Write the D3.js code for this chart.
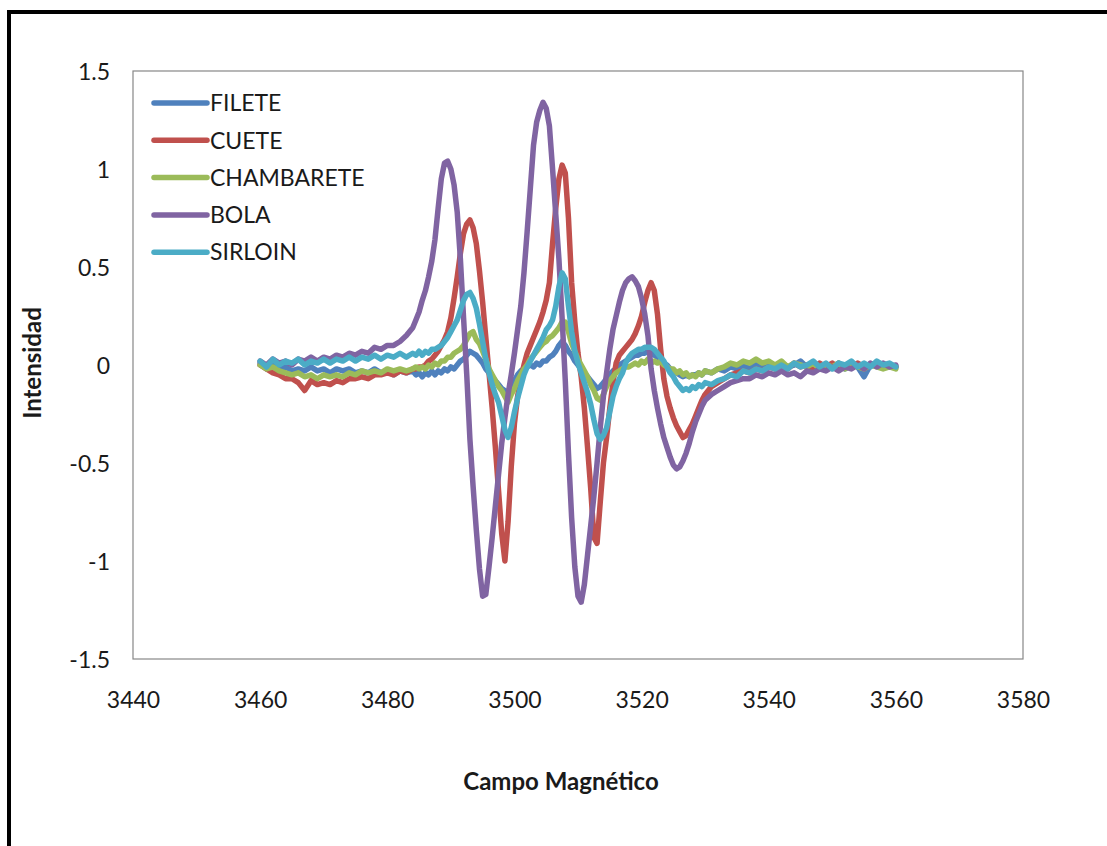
<!DOCTYPE html>
<html>
<head>
<meta charset="utf-8">
<script src="https://cdn.jsdelivr.net/npm/d3@7"></script>
<style>
  html, body { margin: 0; padding: 0; background: #fff; }
  svg { display: block; }
  text { font-family: Lato, "Open Sans", sans-serif; fill: #1a1a1a; }
</style>
</head>
<body>
<svg id="chart" width="1107" height="846"></svg>
<script>
// Field sweep (G): 1 G steps on the wings, 0.5 G steps across the resonance.
const field = d3.range(3460, 3484.001, 1)
  .concat(d3.range(3484.5, 3530.001, 0.5))
  .concat(d3.range(3531, 3560.001, 1));

const seriesNames = ["FILETE", "CUETE", "CHAMBARETE", "BOLA", "SIRLOIN"];
const seriesColors = ["#4F81BD", "#C0504D", "#9BBB59", "#8064A2", "#4BACC6"];

const filete = [
  0.01, -0.02, 0.00, -0.02, -0.01, -0.03, -0.02, -0.03, -0.01, -0.03, -0.02, -0.04, -0.02, -0.03, -0.02, -0.04, -0.03, -0.04, -0.02, -0.04, -0.03, -0.05, -0.03, -0.04, -0.03,
  -0.05, -0.04, -0.06, -0.04, -0.05, -0.03, -0.05, -0.03, -0.04, -0.02,
  -0.03, -0.01, -0.02, 0.00, 0.02, 0.03, 0.05, 0.07, 0.06, 0.05,
  0.03, 0.01, -0.02, -0.04, -0.06, -0.08, -0.10, -0.12, -0.13, -0.14,
  -0.11, -0.08, -0.05, -0.03, -0.02, -0.01, 0.00, -0.01, 0.01, 0.00,
  0.02, 0.02, 0.04, 0.05, 0.07, 0.10, 0.12, 0.10, 0.07, 0.05,
  0.02, 0.00, -0.02, -0.04, -0.06, -0.08, -0.10, -0.12, -0.11, -0.09,
  -0.07, -0.05, -0.03, -0.02, 0.00, 0.01, 0.02, 0.03, 0.04, 0.05,
  0.05, 0.06, 0.06, 0.07, 0.06, 0.05, 0.04, 0.03, 0.01, 0.00,
  -0.02, -0.03, -0.04, -0.05, -0.06, -0.05, -0.06, -0.05, -0.05, -0.04,
  -0.05, -0.03,
  -0.04, -0.02, -0.03, -0.01, -0.02, 0.00, -0.02, 0.01, -0.01, 0.00, -0.02, 0.01, -0.01, 0.00, 0.02, -0.01, 0.01, -0.02, 0.00, -0.01, 0.01, -0.02, 0.00, -0.01, -0.06, 0.00, 0.01, -0.01, 0.00, -0.01
];

const cuete = [
  0.00, -0.02, -0.04, -0.05, -0.07, -0.07, -0.09, -0.13, -0.08, -0.10, -0.09, -0.10, -0.08, -0.09, -0.07, -0.07, -0.06, -0.07, -0.05, -0.05, -0.04, -0.05, -0.03, -0.04, -0.02,
  -0.02, -0.01, -0.01, 0.00, 0.02, 0.03, 0.05, 0.07, 0.10, 0.13,
  0.17, 0.24, 0.34, 0.45, 0.57, 0.67, 0.72, 0.74, 0.70, 0.62,
  0.48, 0.32, 0.14, -0.04, -0.22, -0.42, -0.64, -0.86, -1.00, -0.80,
  -0.52, -0.30, -0.16, -0.07, 0.00, 0.06, 0.10, 0.14, 0.18, 0.22,
  0.27, 0.33, 0.42, 0.62, 0.80, 0.95, 1.02, 0.98, 0.75, 0.42,
  0.22, 0.06, -0.06, -0.22, -0.42, -0.63, -0.88, -0.91, -0.70, -0.50,
  -0.37, -0.22, -0.09, 0.01, 0.05, 0.07, 0.09, 0.11, 0.13, 0.16,
  0.20, 0.25, 0.32, 0.38, 0.42, 0.38, 0.26, 0.08, -0.07, -0.16,
  -0.22, -0.27, -0.31, -0.34, -0.37, -0.36, -0.33, -0.30, -0.26, -0.22,
  -0.18, -0.15,
  -0.11, -0.09, -0.07, -0.05, -0.04, -0.03, -0.04, -0.02, -0.03, -0.01, -0.02, 0.00, -0.02, 0.01, -0.01, 0.00, -0.02, 0.01, -0.01, 0.01, -0.02, 0.00, -0.01, 0.01, -0.01, 0.00, 0.01, -0.01, 0.00, -0.01
];

const chambarete = [
  0.00, -0.02, -0.01, -0.03, -0.04, -0.05, -0.04, -0.06, -0.05, -0.07, -0.05, -0.06, -0.05, -0.06, -0.04, -0.05, -0.03, -0.04, -0.03, -0.04, -0.02, -0.03, -0.02, -0.03, -0.02,
  -0.01, -0.02, -0.01, -0.02, 0.00, -0.01, 0.01, 0.00, 0.02, 0.02,
  0.04, 0.04, 0.06, 0.07, 0.08, 0.10, 0.13, 0.16, 0.17, 0.13,
  0.11, 0.07, 0.03, -0.02, -0.05, -0.08, -0.11, -0.13, -0.16, -0.19,
  -0.15, -0.12, -0.08, -0.05, -0.02, 0.00, 0.03, 0.05, 0.07, 0.09,
  0.11, 0.12, 0.14, 0.15, 0.17, 0.19, 0.22, 0.22, 0.17, 0.11,
  0.07, 0.03, 0.00, -0.03, -0.06, -0.10, -0.13, -0.17, -0.18, -0.15,
  -0.11, -0.08, -0.06, -0.04, -0.03, -0.02, -0.01, -0.01, 0.00, 0.01,
  0.00, 0.02, 0.01, 0.03, 0.01, 0.02, 0.01, 0.02, 0.00, -0.01,
  -0.02, -0.02, -0.04, -0.03, -0.05, -0.04, -0.06, -0.05, -0.06, -0.04,
  -0.05, -0.03,
  -0.04, -0.02, -0.01, 0.01, 0.00, 0.02, 0.01, 0.03, 0.01, 0.02, 0.00, 0.02, -0.01, 0.01, 0.00, -0.01, 0.01, -0.02, 0.00, -0.01, 0.01, -0.02, 0.00, -0.01, -0.02, 0.00, -0.01, -0.02, -0.01, -0.02
];

const bola = [
  0.02, 0.00, 0.03, 0.01, 0.02, 0.00, 0.03, 0.02, 0.04, 0.02, 0.04, 0.03, 0.05, 0.04, 0.06, 0.05, 0.07, 0.06, 0.09, 0.08, 0.10, 0.10, 0.12, 0.15, 0.19,
  0.23, 0.27, 0.33, 0.38, 0.45, 0.53, 0.64, 0.80, 0.95, 1.03,
  1.04, 1.00, 0.92, 0.78, 0.54, 0.24, -0.05, -0.38, -0.62, -0.84,
  -1.04, -1.18, -1.17, -1.03, -0.88, -0.72, -0.56, -0.40, -0.27, -0.15,
  -0.05, 0.06, 0.18, 0.30, 0.47, 0.68, 0.90, 1.12, 1.24, 1.30,
  1.34, 1.31, 1.22, 1.00, 0.77, 0.54, 0.24, -0.08, -0.45, -0.78,
  -1.03, -1.18, -1.21, -1.12, -0.97, -0.82, -0.67, -0.50, -0.32, -0.16,
  -0.04, 0.08, 0.18, 0.25, 0.32, 0.38, 0.42, 0.44, 0.45, 0.43,
  0.40, 0.34, 0.26, 0.15, -0.02, -0.13, -0.22, -0.30, -0.37, -0.42,
  -0.47, -0.51, -0.53, -0.52, -0.49, -0.45, -0.40, -0.34, -0.29, -0.25,
  -0.21, -0.18,
  -0.15, -0.13, -0.11, -0.09, -0.08, -0.07, -0.07, -0.05, -0.06, -0.04, -0.05, -0.03, -0.05, -0.04, -0.06, -0.03, -0.04, -0.02, -0.03, -0.01, -0.03, -0.01, -0.02, 0.00, -0.02, 0.01, -0.01, 0.01, -0.01, 0.00
];

const sirloin = [
  0.02, -0.01, 0.03, 0.00, 0.02, 0.01, 0.03, 0.00, 0.02, 0.01, 0.03, 0.01, 0.03, 0.02, 0.04, 0.02, 0.04, 0.03, 0.05, 0.03, 0.05, 0.04, 0.06, 0.04, 0.06,
  0.05, 0.07, 0.05, 0.07, 0.06, 0.08, 0.08, 0.09, 0.10, 0.12,
  0.14, 0.17, 0.20, 0.23, 0.28, 0.33, 0.36, 0.37, 0.34, 0.29,
  0.21, 0.12, 0.03, -0.04, -0.10, -0.15, -0.19, -0.26, -0.33, -0.37,
  -0.32, -0.24, -0.17, -0.11, -0.05, -0.01, 0.02, 0.05, 0.08, 0.11,
  0.14, 0.18, 0.20, 0.23, 0.30, 0.40, 0.47, 0.44, 0.30, 0.17,
  0.07, 0.01, -0.04, -0.09, -0.14, -0.20, -0.28, -0.35, -0.38, -0.36,
  -0.32, -0.24, -0.16, -0.11, -0.07, -0.04, 0.01, 0.04, 0.06, 0.07,
  0.08, 0.08, 0.09, 0.09, 0.09, 0.08, 0.06, 0.04, 0.02, -0.01,
  -0.04, -0.06, -0.09, -0.11, -0.13, -0.12, -0.13, -0.11, -0.12, -0.10,
  -0.11, -0.09,
  -0.10, -0.08, -0.07, -0.05, -0.06, -0.03, -0.04, -0.02, -0.03, -0.01, -0.02, 0.00, -0.02, 0.01, -0.01, 0.00, 0.02, -0.01, 0.01, -0.02, 0.01, 0.00, 0.02, -0.01, 0.01, -0.01, 0.02, 0.00, 0.01, -0.01
];

const xTicks = [3440, 3460, 3480, 3500, 3520, 3540, 3560, 3580];
const yTicks = [-1.5, -1, -0.5, 0, 0.5, 1, 1.5];

const seriesValues = [filete, cuete, chambarete, bola, sirloin];
seriesValues.forEach((s, i) => {
  if (s.length !== field.length) throw new Error(seriesNames[i] + " length " + s.length + " vs " + field.length);
});

const svg = d3.select("#chart");
const plot = { left: 133, right: 1023, top: 71, bottom: 659 };

// outer chart frame
svg.append("rect")
  .attr("x", 9).attr("y", 12)
  .attr("width", 1120).attr("height", 860)
  .attr("fill", "none").attr("stroke", "#000").attr("stroke-width", 4);

const x = d3.scaleLinear().domain([3440, 3580]).range([plot.left, plot.right]);
const y = d3.scaleLinear().domain([-1.5, 1.5]).range([plot.bottom, plot.top]);

// plot area border
svg.append("rect")
  .attr("x", plot.left).attr("y", plot.top)
  .attr("width", plot.right - plot.left).attr("height", plot.bottom - plot.top)
  .attr("fill", "none").attr("stroke", "#878787").attr("stroke-width", 1.2);

// plain hyphen for negative numbers
const numFmt = d => String(d);

// axes (labels only, no tick marks or domain line)
const xAxis = d3.axisBottom(x).tickValues(xTicks).tickSize(0).tickPadding(0).tickFormat(numFmt);
const gx = svg.append("g").attr("transform", `translate(0,${plot.bottom + 33})`).call(xAxis);
gx.select(".domain").remove();
gx.selectAll("text").attr("font-size", 23).attr("dy", "0.71em");

const yAxis = d3.axisLeft(y).tickValues(yTicks).tickSize(0).tickPadding(0).tickFormat(numFmt);
const gy = svg.append("g").attr("transform", `translate(${plot.left - 23},0)`).call(yAxis);
gy.select(".domain").remove();
gy.selectAll("text").attr("font-size", 23).attr("dy", "0.36em");
svg.selectAll(".tick text").attr("fill", "#1a1a1a");
svg.selectAll(".tick").attr("font-family", null);

// traces
const line = d3.line()
  .x((d, i) => x(field[i]))
  .y(d => y(d))
  .curve(d3.curveLinear);

svg.append("g").selectAll("path")
  .data(seriesValues)
  .join("path")
  .attr("d", d => line(d))
  .attr("fill", "none")
  .attr("stroke", (d, i) => seriesColors[i])
  .attr("stroke-width", 5.5)
  .attr("stroke-linejoin", "round")
  .attr("stroke-linecap", "round");

// legend
const legend = svg.append("g");
seriesNames.forEach((name, i) => {
  const cy = 103 + i * 37.3;
  legend.append("line")
    .attr("x1", 154).attr("x2", 207).attr("y1", cy).attr("y2", cy)
    .attr("stroke", seriesColors[i]).attr("stroke-width", 5.5).attr("stroke-linecap", "round");
  legend.append("text")
    .attr("x", 210).attr("y", cy).attr("dy", "0.36em")
    .attr("font-size", 23)
    .text(name);
});

// axis titles
svg.append("text")
  .attr("x", 561).attr("y", 790)
  .attr("text-anchor", "middle")
  .attr("font-size", 24).attr("font-weight", "bold")
  .text("Campo Magnético");

svg.append("text")
  .attr("transform", "translate(41,363) rotate(-90)")
  .attr("text-anchor", "middle")
  .attr("font-size", 24).attr("font-weight", "bold")
  .text("Intensidad");
</script>
</body>
</html>
